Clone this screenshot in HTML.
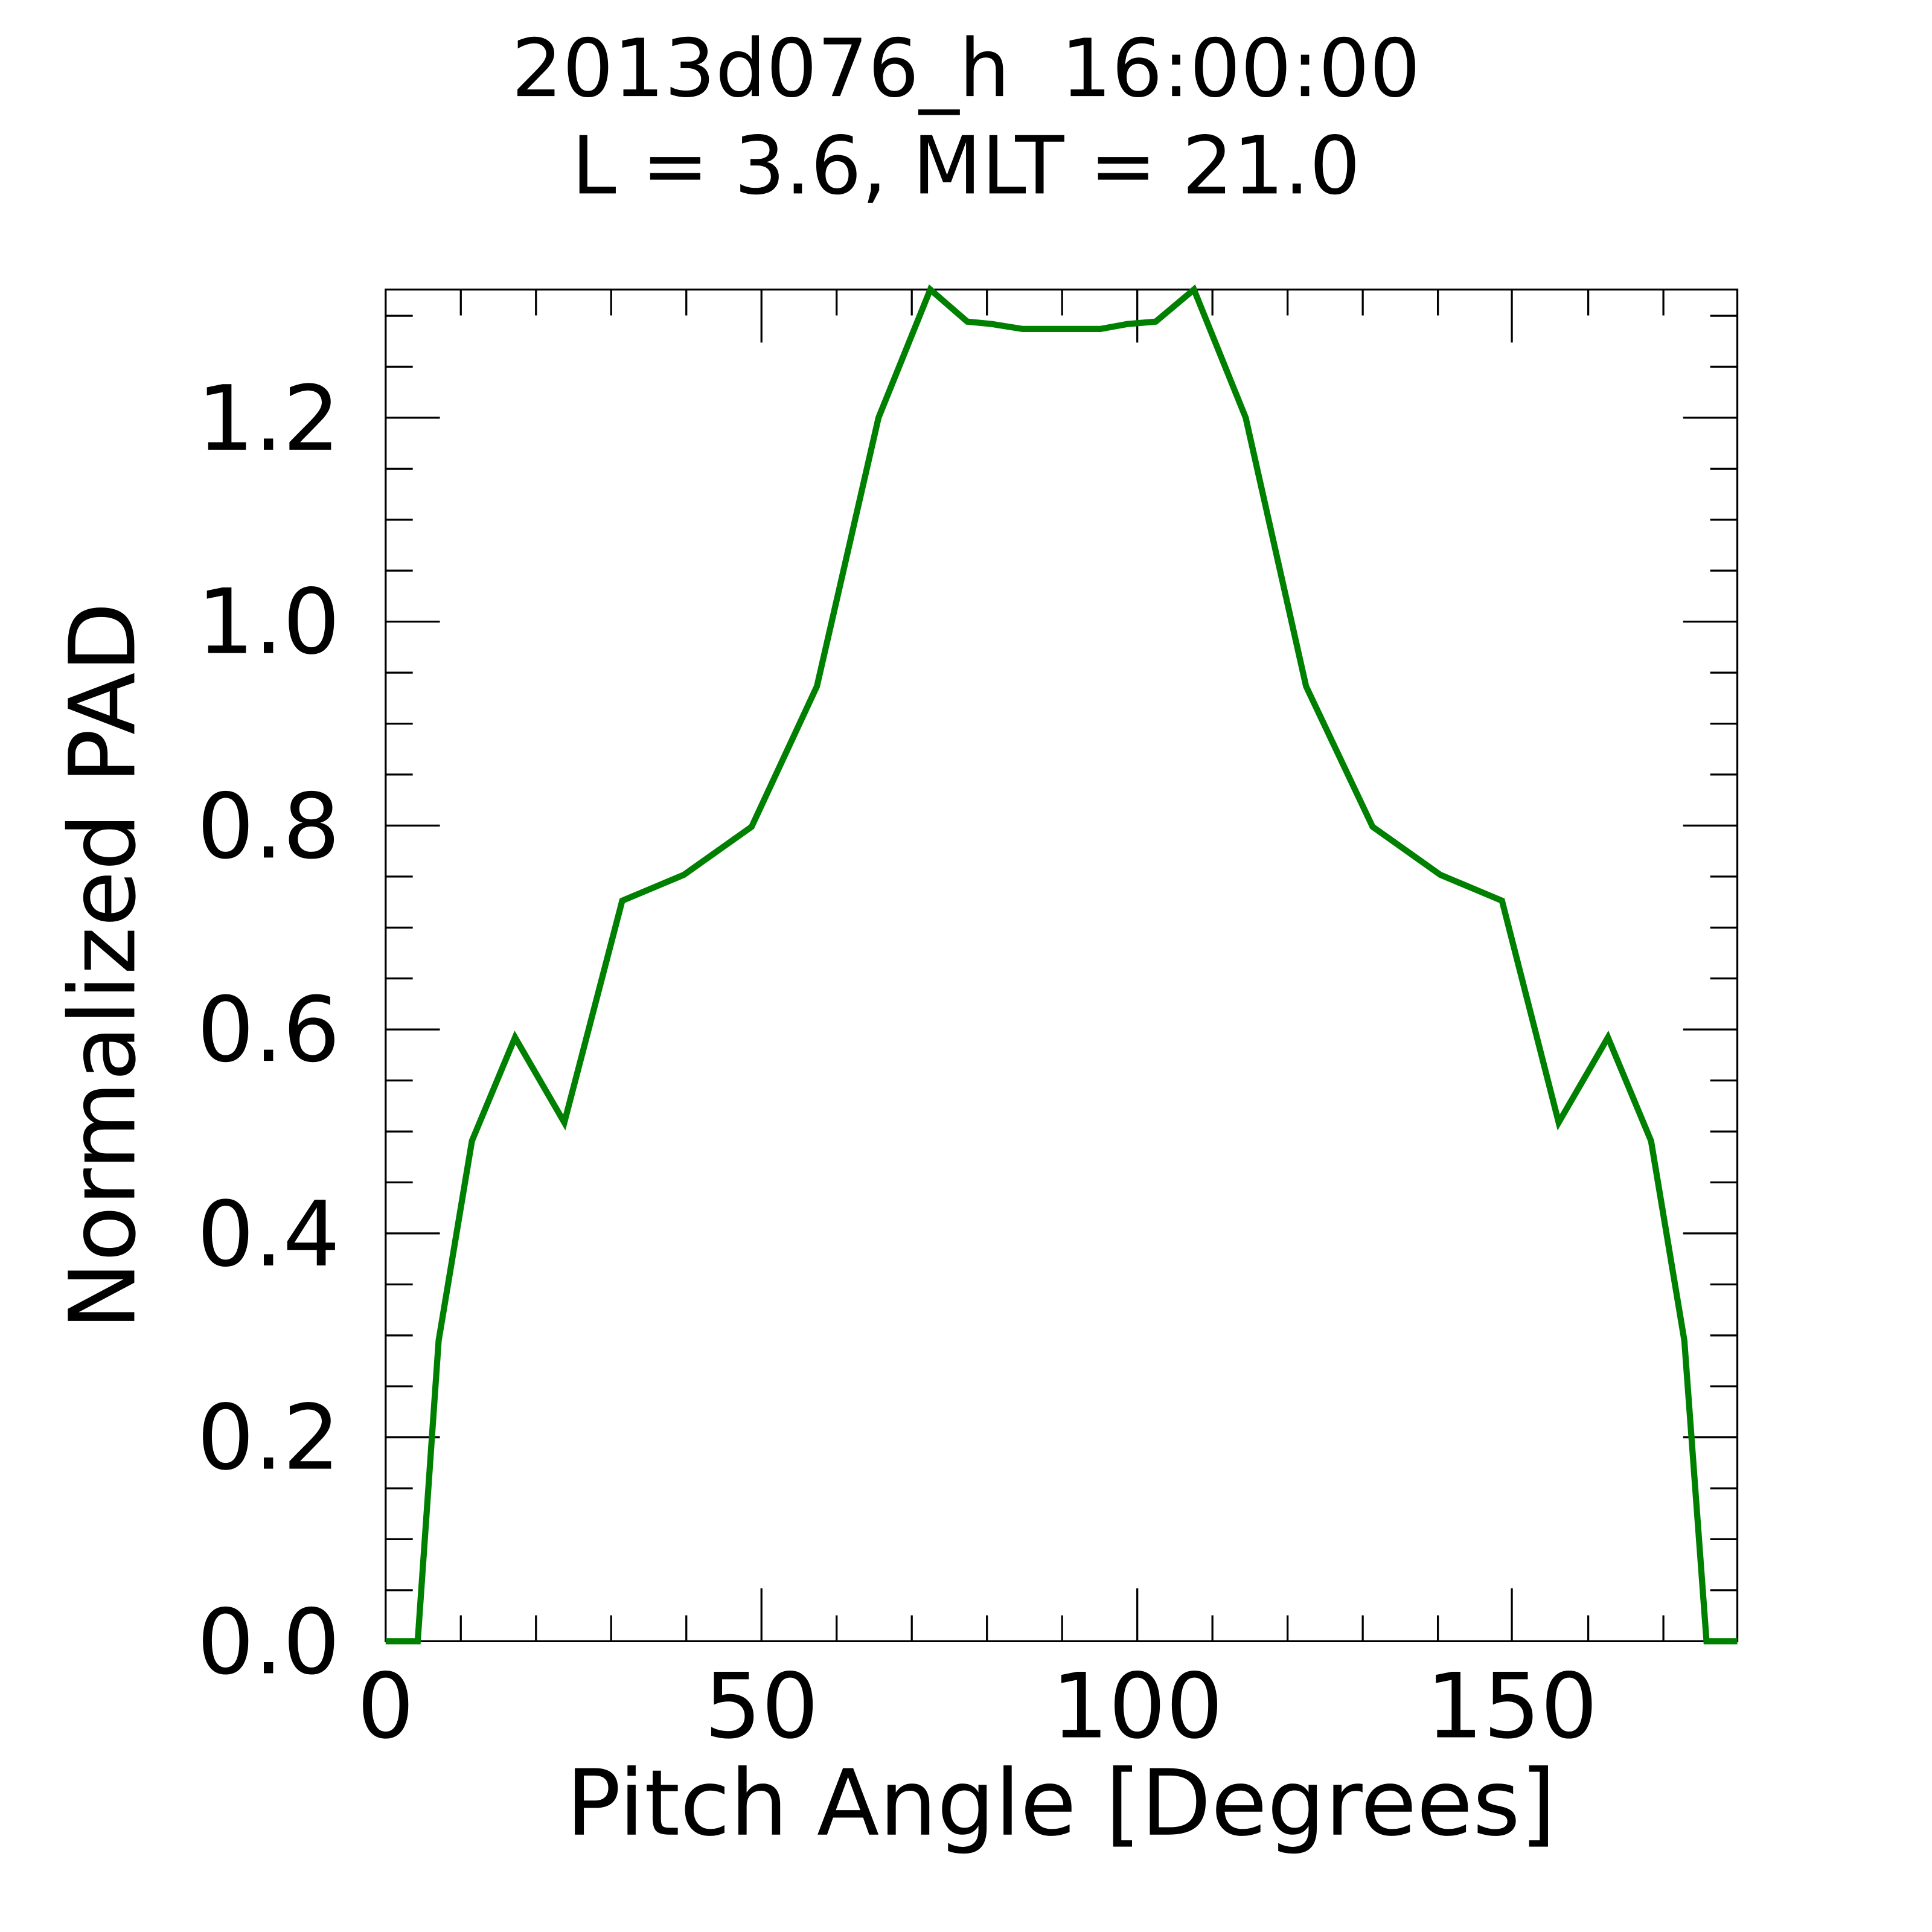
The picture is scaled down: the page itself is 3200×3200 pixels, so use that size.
<!DOCTYPE html>
<html><head><style>html,body{margin:0;padding:0;background:#fff}svg{display:block}</style></head>
<body>
<svg width="3200" height="3200" viewBox="0 0 1568 1568" xmlns="http://www.w3.org/2000/svg" font-family="'DejaVu Sans','Liberation Sans',sans-serif">
<rect width="1568" height="1568" fill="#fff"/>
<text x="784" y="78" font-size="65" text-anchor="middle">2013d076_h&#160;&#160;16:00:00</text>
<text x="784" y="157" font-size="65" text-anchor="middle">L = 3.6, MLT = 21.0</text>
<g stroke="#000" stroke-width="1.6" fill="none">
<rect x="313" y="235" width="1097" height="1097"/>
<path d="
M374,1332v-21M435,1332v-21M496,1332v-21M557,1332v-21M679,1332v-21M740,1332v-21M801,1332v-21M862,1332v-21M984,1332v-21M1045,1332v-21M1106,1332v-21M1167,1332v-21M1289,1332v-21M1350,1332v-21
M618,1332v-43M923,1332v-43M1227,1332v-43
M374,235v21M435,235v21M496,235v21M557,235v21M679,235v21M740,235v21M801,235v21M862,235v21M984,235v21M1045,235v21M1106,235v21M1167,235v21M1289,235v21M1350,235v21
M618,235v43M923,235v43M1227,235v43"/>
<path d="
M313,1166.5h44M313,1001h44M313,835.5h44M313,670h44M313,504.5h44M313,339h44
M1410,1166.5h-44M1410,1001h-44M1410,835.5h-44M1410,670h-44M1410,504.5h-44M1410,339h-44
M313,1290.6h22M313,1249.2h22M313,1207.9h22M313,1125.1h22M313,1083.8h22M313,1042.4h22M313,959.6h22M313,918.3h22M313,876.9h22M313,794.1h22M313,752.8h22M313,711.4h22M313,628.6h22M313,587.3h22M313,545.9h22M313,463.1h22M313,421.8h22M313,380.4h22M313,297.6h22M313,256.3h22
M1410,1290.6h-22M1410,1249.2h-22M1410,1207.9h-22M1410,1125.1h-22M1410,1083.8h-22M1410,1042.4h-22M1410,959.6h-22M1410,918.3h-22M1410,876.9h-22M1410,794.1h-22M1410,752.8h-22M1410,711.4h-22M1410,628.6h-22M1410,587.3h-22M1410,545.9h-22M1410,463.1h-22M1410,421.8h-22M1410,380.4h-22M1410,297.6h-22M1410,256.3h-22"/>
</g>
<polyline fill="none" stroke="#008000" stroke-width="5" stroke-linejoin="miter" points="313,1332 339,1332 356,1088 383,926 418,842 458,911 505,731 555,710 610,671 663,557 713,339 755,235 785,261 805,263 830,267 893,267 915,263 938,261 969,235 1011,339 1060,557 1114,671 1169,710 1219,731 1265,911 1305,842 1340,926 1367,1088 1385,1332 1410,1332"/>
<g font-size="73" text-anchor="end">
<text x="276" y="1358">0.0</text>
<text x="276" y="1192">0.2</text>
<text x="276" y="1027">0.4</text>
<text x="276" y="861">0.6</text>
<text x="276" y="696">0.8</text>
<text x="276" y="530">1.0</text>
<text x="276" y="365">1.2</text>
</g>
<g font-size="73" text-anchor="middle">
<text x="313" y="1410">0</text>
<text x="618" y="1410">50</text>
<text x="923" y="1410">100</text>
<text x="1227" y="1410">150</text>
<text x="861" y="1489" font-size="74">Pitch Angle [Degrees]</text>
<text transform="translate(109,784) rotate(-90)" font-size="74">Normalized PAD</text>
</g>
</svg>
</body></html>
